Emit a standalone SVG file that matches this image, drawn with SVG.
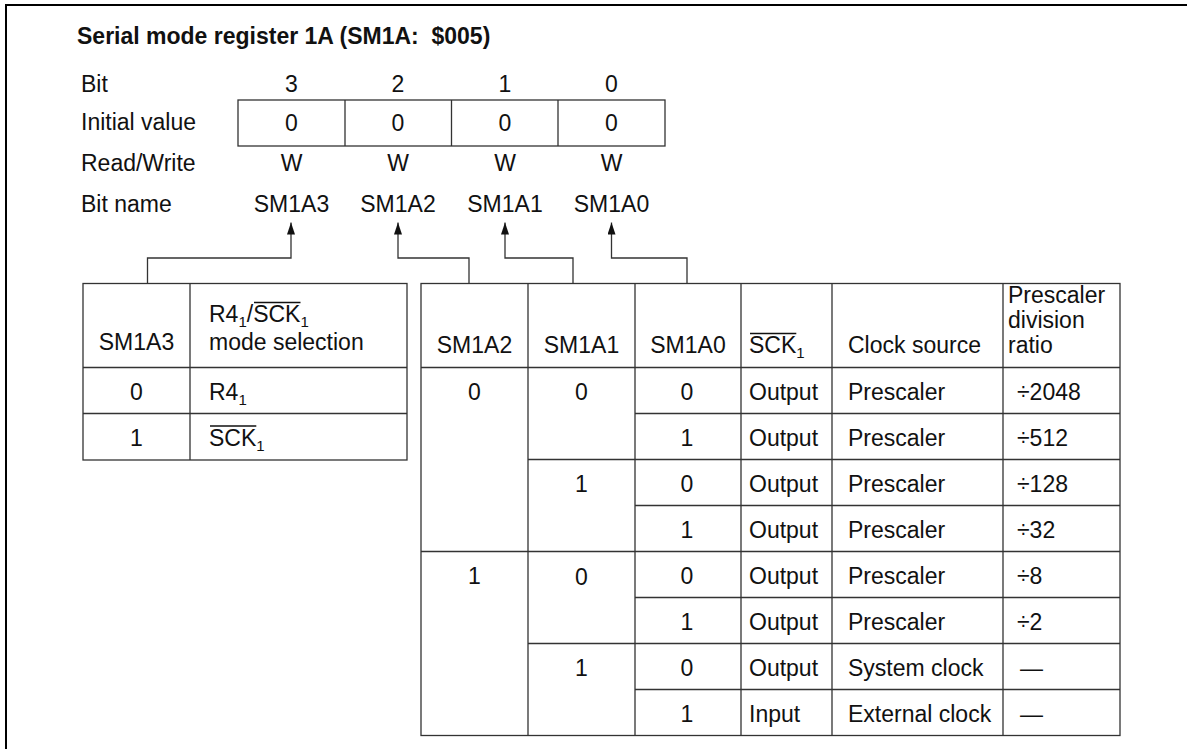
<svg xmlns="http://www.w3.org/2000/svg" width="1187" height="749" viewBox="0 0 1187 749">
<style>
text{font-family:"Liberation Sans",Arial,Helvetica,sans-serif;font-size:23px;fill:#111}
.b{font-weight:bold}
.c{text-anchor:middle}
.ln{fill:none;stroke:#333;stroke-width:1.3}
.ol{stroke:#111;stroke-width:1.3}
.sub{font-size:15px}
</style>
<defs>
<marker id="arr" viewBox="0 0 12 8" refX="12" refY="4" markerUnits="userSpaceOnUse" markerWidth="12" markerHeight="8" orient="auto">
<path d="M0,0 L12,4 L0,8 z" fill="#111"/>
</marker>
</defs>
<rect width="1187" height="749" fill="#fff"/>
<path d="M6,749 V5 H1187" fill="none" stroke="#000" stroke-width="2"/>

<g id="title">
<text class="b" x="77" y="44" xml:space="preserve">Serial mode register 1A (SM1A:  $005)</text>
</g>

<g id="register">
<text x="81" y="92">Bit</text>
<text x="81" y="130">Initial value</text>
<text x="81" y="171">Read/Write</text>
<text x="81" y="212">Bit name</text>
<rect class="ln" x="238" y="100" width="427" height="46"/>
<path class="ln" d="M345,100 V146 M451.5,100 V146 M558,100 V146"/>
<text class="c" x="291.5" y="92">3</text>
<text class="c" x="398" y="92">2</text>
<text class="c" x="505" y="92">1</text>
<text class="c" x="611.5" y="92">0</text>
<text class="c" x="291.5" y="131">0</text>
<text class="c" x="398" y="131">0</text>
<text class="c" x="505" y="131">0</text>
<text class="c" x="611.5" y="131">0</text>
<text class="c" x="291.5" y="171">W</text>
<text class="c" x="398" y="171">W</text>
<text class="c" x="505" y="171">W</text>
<text class="c" x="611.5" y="171">W</text>
<text class="c" x="291.5" y="212">SM1A3</text>
<text class="c" x="398" y="212">SM1A2</text>
<text class="c" x="505" y="212">SM1A1</text>
<text class="c" x="611.5" y="212">SM1A0</text>
</g>

<g id="connectors">
<path class="ln" d="M147.5,283.5 V258 H291 V222.5" marker-end="url(#arr)"/>
<path class="ln" d="M469,283.5 V258 H398 V222.5" marker-end="url(#arr)"/>
<path class="ln" d="M573,283.5 V258 H505 V222.5" marker-end="url(#arr)"/>
<path class="ln" d="M687,283.5 V258 H611.5 V222.5" marker-end="url(#arr)"/>
</g>

<g id="table-sm1a3">
<rect class="ln" x="83" y="283.5" width="324" height="176.5"/>
<path class="ln" d="M190,283.5 V460 M83,367.5 H407 M83,413.5 H407"/>
<text class="c" x="136.5" y="350">SM1A3</text>
<text x="209" y="322">R4<tspan class="sub" dy="5">1</tspan><tspan dy="-5">/SCK</tspan><tspan class="sub" dy="5">1</tspan></text>
<line class="ol" x1="254" y1="302.5" x2="300.5" y2="302.5"/>
<text x="209" y="350">mode selection</text>
<text class="c" x="136.5" y="400">0</text>
<text x="209" y="400">R4<tspan class="sub" dy="5">1</tspan></text>
<text class="c" x="136.5" y="446">1</text>
<text x="209" y="446">SCK<tspan class="sub" dy="5">1</tspan></text>
<line class="ol" x1="210" y1="426" x2="256.3" y2="426"/>
</g>

<g id="table-sm1a2-0">
<rect class="ln" x="421" y="283.5" width="699" height="452"/>
<path class="ln" d="M528,283.5 V735.5 M635,283.5 V735.5 M741,283.5 V735.5 M832,283.5 V735.5 M1003,283.5 V735.5"/>
<path class="ln" d="M421,367.5 H1120 M635,413.5 H1120 M528,459.5 H1120 M635,505.5 H1120 M421,551.5 H1120 M635,597.5 H1120 M528,643.5 H1120 M635,689.5 H1120"/>
<text class="c" x="474.5" y="353">SM1A2</text>
<text class="c" x="581.5" y="353">SM1A1</text>
<text class="c" x="688" y="353">SM1A0</text>
<text x="749" y="353">SCK<tspan class="sub" dy="5">1</tspan></text>
<line class="ol" x1="750" y1="333.5" x2="796.3" y2="333.5"/>
<text x="848" y="353">Clock source</text>
<text x="1008" y="303">Prescaler</text>
<text x="1008" y="328">division</text>
<text x="1008" y="353">ratio</text>

<text class="c" x="474.5" y="400">0</text>
<text class="c" x="581.5" y="400">0</text>
<text class="c" x="687" y="400">0</text>
<text x="749" y="400">Output</text>
<text x="848" y="400">Prescaler</text>
<text x="1017" y="400">÷2048</text>

<text class="c" x="687" y="446">1</text>
<text x="749" y="446">Output</text>
<text x="848" y="446">Prescaler</text>
<text x="1017" y="446">÷512</text>

<text class="c" x="581.5" y="492">1</text>
<text class="c" x="687" y="492">0</text>
<text x="749" y="492">Output</text>
<text x="848" y="492">Prescaler</text>
<text x="1017" y="492">÷128</text>

<text class="c" x="687" y="538">1</text>
<text x="749" y="538">Output</text>
<text x="848" y="538">Prescaler</text>
<text x="1017" y="538">÷32</text>

<text class="c" x="474.5" y="584">1</text>
<text class="c" x="581.5" y="585">0</text>
<text class="c" x="687" y="584">0</text>
<text x="749" y="584">Output</text>
<text x="848" y="584">Prescaler</text>
<text x="1017" y="584">÷8</text>

<text class="c" x="687" y="630">1</text>
<text x="749" y="630">Output</text>
<text x="848" y="630">Prescaler</text>
<text x="1017" y="630">÷2</text>

<text class="c" x="581.5" y="676">1</text>
<text class="c" x="687" y="676">0</text>
<text x="749" y="676">Output</text>
<text x="848" y="676">System clock</text>
<text x="1020" y="676">—</text>

<text class="c" x="687" y="722">1</text>
<text x="749" y="722">Input</text>
<text x="848" y="722">External clock</text>
<text x="1020" y="722">—</text>
</g>
</svg>
